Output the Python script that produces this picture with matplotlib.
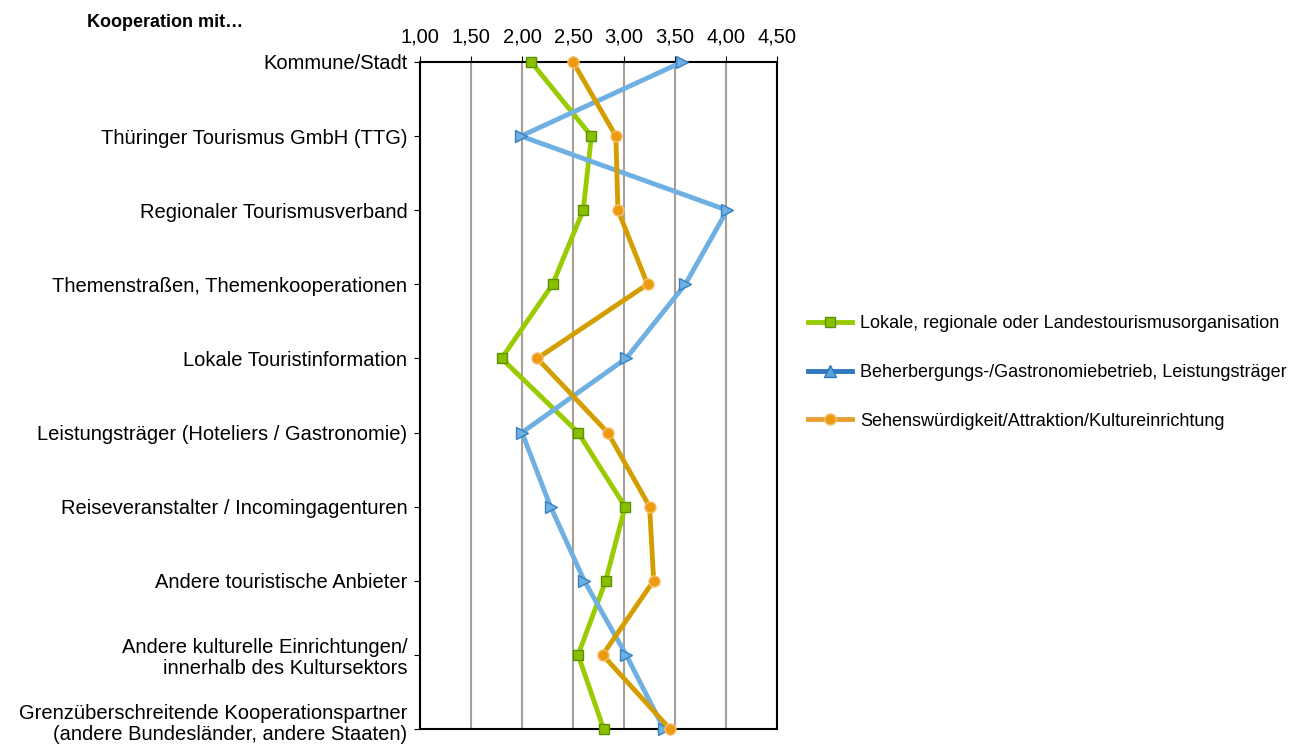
import matplotlib
matplotlib.use("Agg")
import matplotlib.pyplot as plt
from matplotlib.lines import Line2D
from matplotlib.ticker import FuncFormatter
import matplotlib.transforms as mtransforms

plt.rcParams['font.family'] = ['Liberation Sans', 'DejaVu Sans']

categories = [
    "Kommune/Stadt",
    "Thüringer Tourismus GmbH (TTG)",
    "Regionaler Tourismusverband",
    "Themenstraßen, Themenkooperationen",
    "Lokale Touristinformation",
    "Leistungsträger (Hoteliers / Gastronomie)",
    "Reiseveranstalter / Incomingagenturen",
    "Andere touristische Anbieter",
    "Andere kulturelle Einrichtungen/\ninnerhalb des Kultursektors",
    "Grenzüberschreitende Kooperationspartner\n(andere Bundesländer, andere Staaten)",
]
lokale = [2.09, 2.68, 2.60, 2.30, 1.80, 2.55, 3.01, 2.82, 2.55, 2.80]
beherbergung = [3.57, 1.99, 4.01, 3.60, 3.02, 2.00, 2.28, 2.61, 3.02, 3.39]
sehens = [2.50, 2.92, 2.94, 3.23, 2.15, 2.84, 3.25, 3.29, 2.79, 3.45]
series_names = [
    "Lokale, regionale oder Landestourismusorganisation",
    "Beherbergungs-/Gastronomiebetrieb, Leistungsträger",
    "Sehenswürdigkeit/Attraktion/Kultureinrichtung",
]
x_ticks = [1.0, 1.5, 2.0, 2.5, 3.0, 3.5, 4.0, 4.5]

fig = plt.figure(figsize=(13.04, 7.45), dpi=100)
ax = fig.add_axes([0.322, 0.0215, 0.274, 0.8953])

ypos = list(range(len(categories)))

ax.plot(lokale, ypos, color='#99CC00', lw=3.5, marker='s', ms=7,
        mfc='#88C000', mec='#5C9000', mew=1, clip_on=False, zorder=3)
ax.plot(beherbergung, ypos, color='#6FB0E2', lw=3.5, marker='>', ms=8,
        mfc='#6FB0E2', mec='#3A7FC0', mew=1, clip_on=False, zorder=3)
ax.plot(sehens, ypos, color='#D49E00', lw=3.5, marker='o', ms=8,
        mfc='#EE9A10', mec='#F5C070', mew=1, clip_on=False, zorder=4)

ax.set_xlim(1.0, 4.5)
ax.set_ylim(len(categories) - 1, 0)
ax.set_xticks(x_ticks)
ax.xaxis.set_major_formatter(FuncFormatter(lambda v, p: f"{v:.2f}".replace('.', ',')))
ax.xaxis.tick_top()
ax.tick_params(axis='x', labelsize=14.5, length=4, pad=7, color='black')
ax.set_yticks(ypos)
ax.set_yticklabels(categories, fontsize=14.5, linespacing=1.15)
ax.tick_params(axis='y', length=4, pad=5)
ax.grid(axis='x', color='#A89F95', lw=1.5)
ax.set_axisbelow(True)
for s in ax.spines.values():
    s.set_color('black')
    s.set_linewidth(1.5)

# nudge the last (two-line) label up slightly so it stays within the figure
last = ax.get_yticklabels()[-1]
last.set_transform(last.get_transform() +
                   mtransforms.ScaledTranslation(0, 6 / 72, fig.dpi_scale_trans))

fig.text(0.067, 0.970, "Kooperation mit…", fontsize=13, fontweight='bold',
         ha='left', va='center')

handles = [
    Line2D([], [], color='#99CC00', lw=3.5, marker='s', ms=7, mfc='#88C000', mec='#5C9000'),
    Line2D([], [], color='#2E78BE', lw=3.5, marker='^', ms=8, mfc='#5AA2DC', mec='#2E78BE'),
    Line2D([], [], color='#E8A030', lw=3.5, marker='o', ms=8, mfc='#EE9A10', mec='#F5C070'),
]
fig.legend(handles, series_names, loc='center left', bbox_to_anchor=(0.6071, 0.5),
           frameon=False, fontsize=13, labelspacing=1.75, handlelength=2.44,
           handletextpad=0.44)

fig.savefig("out.png", dpi=100)
